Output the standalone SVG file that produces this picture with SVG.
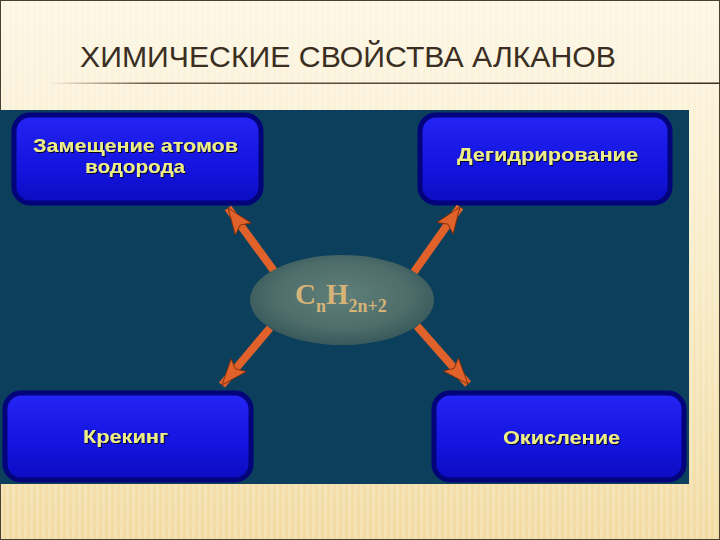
<svg xmlns="http://www.w3.org/2000/svg" width="720" height="540" viewBox="0 0 720 540">
<defs>
<linearGradient id="bg" x1="0" y1="0" x2="0" y2="1">
<stop offset="0" stop-color="#FCF6E4"/>
<stop offset="0.5" stop-color="#F8EBC6"/>
<stop offset="1" stop-color="#F2DBA2"/>
</linearGradient>
<pattern id="stripes" width="6" height="10" patternUnits="userSpaceOnUse">
<rect width="3" height="10" fill="#ffffff" opacity="0.18"/>
</pattern>
<linearGradient id="rule" x1="0" y1="0" x2="1" y2="0">
<stop offset="0" stop-color="#6b5a45" stop-opacity="0"/>
<stop offset="0.15" stop-color="#6b5a45"/>
<stop offset="1" stop-color="#3a2e22"/>
</linearGradient>
<linearGradient id="box" x1="0" y1="0" x2="0" y2="1">
<stop offset="0" stop-color="#2424f4"/>
<stop offset="0.6" stop-color="#1414e0"/>
<stop offset="1" stop-color="#0c0cc0"/>
</linearGradient>
<radialGradient id="ell" cx="0.5" cy="0.45" r="0.55">
<stop offset="0" stop-color="#5f7f7a"/>
<stop offset="0.65" stop-color="#4f6e6b"/>
<stop offset="1" stop-color="#38595b"/>
</radialGradient>
<marker id="head" markerUnits="userSpaceOnUse" markerWidth="30" markerHeight="22" refX="26" refY="11" orient="auto">
<path d="M0,1 L26,11 L0,21 L5,11 Z" fill="#e0622a" stroke="#7a2a08" stroke-width="0.8"/>
</marker>
<filter id="sh" x="-10%" y="-10%" width="120%" height="130%">
<feDropShadow dx="1" dy="1" stdDeviation="0.6" flood-color="#000" flood-opacity="0.9"/>
</filter>
</defs>
<style>
.node rect{fill:url(#box);stroke:#03037a;stroke-width:5}
.lbl{font-family:"Liberation Sans",Arial,sans-serif;font-weight:bold;font-size:19px;fill:#eeee88;filter:url(#sh)}
.conn line{stroke:#e0622a;stroke-width:8;marker-end:url(#head)}
.f{font-family:"Liberation Serif","Times New Roman",serif;font-weight:bold;fill:#d6b478}
</style>
<rect x="0" y="0" width="720" height="540" fill="url(#bg)"/>
<rect x="0" y="0" width="720" height="540" fill="url(#stripes)"/>
<rect x="0.5" y="0.5" width="719" height="539" fill="none" stroke="#4a4030" stroke-width="1"/>
<text x="80" y="67" font-family="Liberation Sans,Arial,sans-serif" font-size="29" fill="#3a2e22" textLength="536" lengthAdjust="spacingAndGlyphs">ХИМИЧЕСКИЕ СВОЙСТВА АЛКАНОВ</text>
<rect x="48" y="82.5" width="672" height="1.5" fill="url(#rule)"/>
<rect x="0" y="110" width="689" height="374" fill="#0b3f5c"/>
<g id="node-substitution" class="node">
<rect x="14" y="115" width="247" height="88" rx="16"/>
<text class="lbl" x="33" y="152" textLength="205" lengthAdjust="spacingAndGlyphs">Замещение атомов</text>
<text class="lbl" x="85" y="173" textLength="100" lengthAdjust="spacingAndGlyphs">водорода</text>
</g>
<g id="node-dehydrogenation" class="node">
<rect x="420" y="115" width="250" height="88" rx="16"/>
<text class="lbl" x="457" y="161" textLength="181" lengthAdjust="spacingAndGlyphs">Дегидрирование</text>
</g>
<g id="node-cracking" class="node">
<rect x="5" y="393" width="246" height="87" rx="16"/>
<text class="lbl" x="83" y="443" textLength="85" lengthAdjust="spacingAndGlyphs">Крекинг</text>
</g>
<g id="node-oxidation" class="node">
<rect x="434" y="393" width="250" height="87" rx="16"/>
<text class="lbl" x="503" y="444" textLength="117" lengthAdjust="spacingAndGlyphs">Окисление</text>
</g>
<g id="connectors" class="conn">
<line x1="274" y1="271" x2="228" y2="208"/>
<line x1="414" y1="272" x2="460" y2="207"/>
<line x1="270" y1="328" x2="222" y2="385"/>
<line x1="417" y1="326" x2="468" y2="384"/>
</g>
<g id="node-alkane">
<ellipse cx="342" cy="300" rx="92" ry="45" fill="url(#ell)"/>
<text class="f" x="295" y="304" font-size="29">C<tspan font-size="18" dy="8">n</tspan><tspan dy="-8">H</tspan><tspan font-size="18" dy="8">2n+2</tspan></text>
</g>
</svg>
